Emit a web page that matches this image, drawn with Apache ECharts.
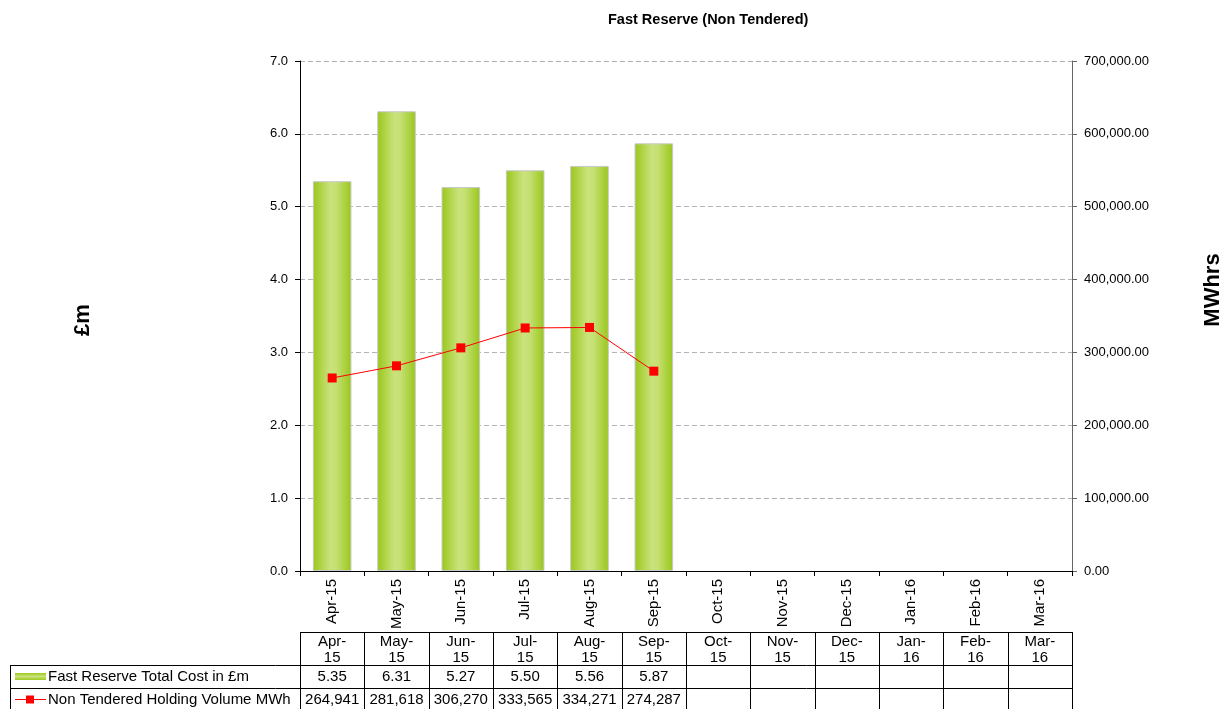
<!DOCTYPE html>
<html>
<head>
<meta charset="utf-8">
<script src="https://cdn.jsdelivr.net/npm/echarts@6/dist/echarts.min.js"></script>
<style>
html,body{margin:0;padding:0;background:#fff;}
#main{width:1232px;height:709px;}
</style>
</head>
<body>
<div id="main"></div>
<script>
// ---- data ----
var categories = ['Apr-15','May-15','Jun-15','Jul-15','Aug-15','Sep-15','Oct-15','Nov-15','Dec-15','Jan-16','Feb-16','Mar-16'];
var costValues = [5.35, 6.31, 5.27, 5.50, 5.56, 5.87, null, null, null, null, null, null];
var volumeValues = [264941, 281618, 306270, 333565, 334271, 274287, null, null, null, null, null, null];
var leftTicks = {min: 0, max: 7, interval: 1};
var rightTicks = {min: 0, max: 700000, interval: 100000};
var seriesNames = ['Fast Reserve Total Cost in £m', 'Non Tendered Holding Volume MWh'];
var titleText = 'Fast Reserve (Non Tendered)';
var leftAxisName = '£m';
var rightAxisName = 'MWhrs';

// ---- layout ----
var FONT = 'Liberation Sans, Arial, sans-serif';
var W = 1232, H = 709;
var GL = 300, GR = 1072, GT = 61, GB = 571;

function fmtThousands(v, dec) {
  var s = Number(v).toFixed(dec);
  var parts = s.split('.');
  parts[0] = parts[0].replace(/\B(?=(\d{3})+(?!\d))/g, ',');
  return parts.join('.');
}

var barGradient = new echarts.graphic.LinearGradient(0, 0, 1, 0, [
  {offset: 0, color: '#99C71A'},
  {offset: 0.45, color: '#CAE27C'},
  {offset: 0.6, color: '#C6E074'},
  {offset: 1, color: '#99C71A'}
]);

var chart = echarts.init(document.getElementById('main'), null, {renderer: 'canvas'});

// ---- table graphics ----
var graphics = [];
var colW = (GR - GL) / categories.length;
var yHeadTop = 632, yRow1 = 665, yRow2 = 688, yBottom = 711;
var lineStyle = {stroke: '#000', lineWidth: 1};
function hline(x1, x2, y) {
  graphics.push({type: 'line', shape: {x1: x1, y1: y + 0.5, x2: x2, y2: y + 0.5}, style: lineStyle, silent: true});
}
function vline(x, y1, y2) {
  graphics.push({type: 'line', shape: {x1: Math.round(x) + 0.5, y1: y1, x2: Math.round(x) + 0.5, y2: y2}, style: lineStyle, silent: true});
}
hline(GL, GR, yHeadTop);
hline(10, GR, yRow1);
hline(10, GR, yRow2);
hline(10, GR, yBottom - 2);
vline(10, yRow1, yBottom);
for (var i = 0; i <= categories.length; i++) {
  vline(GL + i * colW, yHeadTop, yBottom);
}
categories.forEach(function (c, i) {
  var cx = GL + (i + 0.5) * colW;
  var parts = c.split('-');
  graphics.push({type: 'text', silent: true, style: {text: parts[0] + '-\n' + parts[1], x: cx, y: yHeadTop + 2, textAlign: 'center', textVerticalAlign: 'top', font: '15px ' + FONT, fill: '#000', lineHeight: 16}});
  if (costValues[i] != null) {
    graphics.push({type: 'text', silent: true, style: {text: costValues[i].toFixed(2), x: cx, y: yRow1 + 12, textAlign: 'center', textVerticalAlign: 'middle', font: '15px ' + FONT, fill: '#000'}});
  }
  if (volumeValues[i] != null) {
    graphics.push({type: 'text', silent: true, style: {text: fmtThousands(volumeValues[i], 0), x: cx, y: yRow2 + 12, textAlign: 'center', textVerticalAlign: 'middle', font: '15px ' + FONT, fill: '#000'}});
  }
});
// legend keys
graphics.push({type: 'rect', silent: true, shape: {x: 15, y: yRow1 + 8, width: 31, height: 7}, style: {fill: new echarts.graphic.LinearGradient(0, 0, 0, 1, [{offset: 0, color: '#9CC91C'}, {offset: 0.5, color: '#CAE27C'}, {offset: 1, color: '#9CC91C'}])}});
graphics.push({type: 'text', silent: true, style: {text: seriesNames[0], x: 48, y: yRow1 + 12, textVerticalAlign: 'middle', font: '15px ' + FONT, fill: '#000'}});
graphics.push({type: 'line', silent: true, shape: {x1: 15, y1: yRow2 + 11.5, x2: 46, y2: yRow2 + 11.5}, style: {stroke: '#FF0000', lineWidth: 1}});
graphics.push({type: 'rect', silent: true, shape: {x: 26, y: yRow2 + 7.5, width: 8, height: 8}, style: {fill: '#FF0000'}});
graphics.push({type: 'text', silent: true, style: {text: seriesNames[1], x: 48, y: yRow2 + 12, textVerticalAlign: 'middle', font: '15px ' + FONT, fill: '#000'}});
// axis names
graphics.push({type: 'text', silent: true, x: 83, y: (GT + GB) / 2 + 4, rotation: Math.PI / 2, style: {text: leftAxisName, textAlign: 'center', textVerticalAlign: 'middle', font: 'bold 22px ' + FONT, fill: '#000'}});
graphics.push({type: 'text', silent: true, x: 1213, y: 290, rotation: Math.PI / 2, style: {text: rightAxisName, textAlign: 'center', textVerticalAlign: 'middle', font: 'bold 22px ' + FONT, fill: '#000'}});

var option = {
  backgroundColor: '#fff',
  animation: false,
  title: {
    text: titleText,
    left: 603, top: 7,
    textStyle: {fontFamily: FONT, fontSize: 14.5, fontWeight: 'bold', color: '#000'}
  },
  grid: {left: GL, right: W - GR, top: GT, bottom: H - GB, containLabel: false},
  xAxis: {
    type: 'category',
    data: categories,
    boundaryGap: true,
    axisLine: {lineStyle: {color: '#000', width: 1}},
    axisTick: {show: true, length: 5, lineStyle: {color: '#000'}},
    axisLabel: {rotate: 90, margin: 8, fontFamily: FONT, fontSize: 15, color: '#000', interval: 0},
    splitLine: {show: false}
  },
  yAxis: [
    {
      type: 'value',
      min: leftTicks.min, max: leftTicks.max, interval: leftTicks.interval,
      position: 'left',
      axisLine: {show: true, lineStyle: {color: '#000', width: 1}},
      axisTick: {show: true, length: 5, lineStyle: {color: '#000'}},
      axisLabel: {margin: 12, fontFamily: FONT, fontSize: 13, color: '#000', formatter: function (v) { return v.toFixed(1); }},
      splitLine: {show: true, lineStyle: {color: '#B4B4B4', type: [5, 3], width: 1}}
    },
    {
      type: 'value',
      min: rightTicks.min, max: rightTicks.max, interval: rightTicks.interval,
      position: 'right',
      axisLine: {show: true, lineStyle: {color: '#666', width: 1}},
      axisTick: {show: true, length: 5, lineStyle: {color: '#666'}},
      axisLabel: {margin: 12, fontFamily: FONT, fontSize: 13, color: '#000', formatter: function (v) { return fmtThousands(v, 2); }},
      splitLine: {show: false}
    }
  ],
  series: [
    {
      name: seriesNames[0],
      type: 'bar',
      yAxisIndex: 0,
      data: costValues,
      barWidth: '60%',
      itemStyle: {color: barGradient, borderColor: '#C8C8C8', borderWidth: 1}
    },
    {
      name: seriesNames[1],
      type: 'line',
      yAxisIndex: 1,
      data: volumeValues,
      symbol: 'rect',
      symbolSize: 9,
      showAllSymbol: true,
      itemStyle: {color: '#FF0000'},
      lineStyle: {color: '#FF0000', width: 1}
    }
  ],
  graphic: graphics
};
chart.setOption(option);
</script>
</body>
</html>
